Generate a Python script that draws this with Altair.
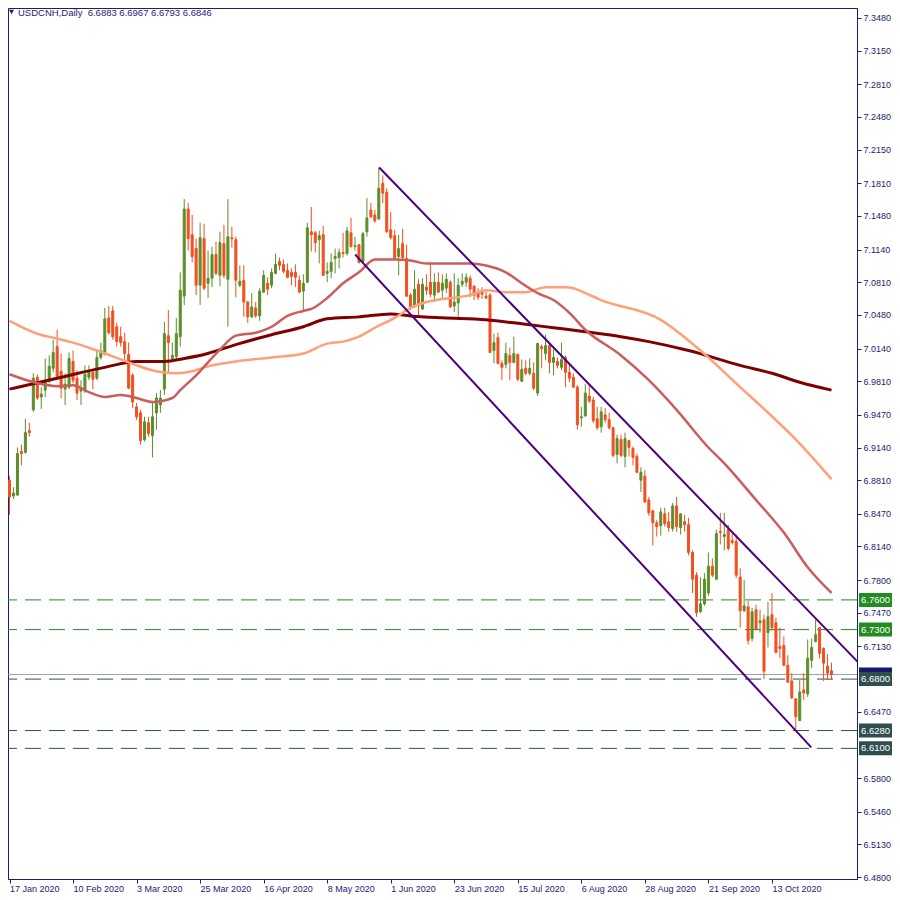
import altair as alt
import pandas as pd

# ---------------- data (USDCNH daily candles) ----------------
opens = [
    6.881, 6.865, 6.866, 6.910, 6.909, 6.931, 6.952, 6.985, 6.965, 6.972,
    6.981, 6.994, 7.016, 6.991, 6.973, 6.975, 7.001, 6.984, 6.971, 6.971,
    6.985, 6.990, 6.984, 7.005, 7.008, 7.045, 7.052, 7.036, 7.026, 7.021,
    7.008, 6.987, 6.955, 6.949, 6.922, 6.939, 6.926, 6.949, 6.957, 6.973,
    7.027, 7.004, 7.006, 7.026, 7.067, 7.155, 7.129, 7.115, 7.078, 7.125,
    7.080, 7.085, 7.109, 7.088, 7.120, 7.084, 7.126, 7.124, 7.078, 7.083,
    7.061, 7.046, 7.055, 7.047, 7.071, 7.080, 7.078, 7.090, 7.102, 7.099,
    7.093, 7.091, 7.091, 7.083, 7.072, 7.081, 7.132, 7.131, 7.124, 7.129,
    7.090, 7.092, 7.105, 7.106, 7.111, 7.110, 7.131, 7.117, 7.119, 7.102,
    7.132, 7.154, 7.149, 7.145, 7.181, 7.172, 7.134, 7.128, 7.107, 7.120,
    7.105, 7.068, 7.057, 7.079, 7.054, 7.076, 7.081, 7.068, 7.081, 7.073,
    7.075, 7.081, 7.057, 7.060, 7.079, 7.081, 7.085, 7.077, 7.070, 7.071,
    7.067, 7.068, 7.012, 7.025, 6.999, 6.998, 7.007, 7.000, 7.008, 6.981,
    6.994, 6.989, 6.989, 6.969, 7.016, 7.009, 7.017, 7.000, 7.001, 6.995,
    7.005, 6.990, 6.985, 6.975, 6.944, 6.946, 6.966, 6.962, 6.943, 6.935,
    6.947, 6.942, 6.934, 6.907, 6.922, 6.905, 6.921, 6.913, 6.905, 6.881,
    6.885, 6.861, 6.850, 6.838, 6.835, 6.847, 6.839, 6.832, 6.855, 6.833,
    6.839, 6.836, 6.808, 6.785, 6.748, 6.756, 6.767, 6.794, 6.781, 6.829,
    6.824, 6.831, 6.820, 6.819, 6.783, 6.749, 6.753, 6.721, 6.750, 6.737,
    6.740, 6.727, 6.745, 6.737, 6.713, 6.714, 6.694, 6.678, 6.660, 6.638,
    6.669, 6.665, 6.699, 6.718, 6.732, 6.711, 6.693, 6.6883,
]
highs = [
    6.885, 6.874, 6.914, 6.917, 6.943, 6.939, 6.989, 6.988, 6.975, 7.004,
    7.007, 7.023, 7.033, 7.009, 6.989, 7.010, 7.012, 6.992, 6.982, 6.997,
    6.997, 6.994, 7.012, 7.020, 7.055, 7.057, 7.057, 7.040, 7.036, 7.030,
    7.020, 6.989, 6.959, 6.952, 6.945, 6.945, 6.960, 6.969, 6.972, 7.041,
    7.053, 7.020, 7.045, 7.091, 7.165, 7.161, 7.149, 7.125, 7.141, 7.140,
    7.113, 7.117, 7.122, 7.132, 7.139, 7.165, 7.137, 7.127, 7.098, 7.098,
    7.062, 7.070, 7.061, 7.075, 7.093, 7.086, 7.095, 7.110, 7.106, 7.104,
    7.100, 7.095, 7.099, 7.088, 7.089, 7.141, 7.157, 7.133, 7.133, 7.138,
    7.101, 7.110, 7.115, 7.115, 7.131, 7.137, 7.146, 7.127, 7.119, 7.132,
    7.166, 7.161, 7.154, 7.197, 7.189, 7.176, 7.152, 7.134, 7.129, 7.135,
    7.119, 7.070, 7.093, 7.084, 7.085, 7.089, 7.100, 7.090, 7.091, 7.089,
    7.090, 7.083, 7.090, 7.085, 7.090, 7.090, 7.088, 7.078, 7.075, 7.076,
    7.072, 7.070, 7.029, 7.030, 7.002, 7.020, 7.015, 7.026, 7.009, 7.003,
    7.002, 7.004, 7.000, 7.020, 7.018, 7.028, 7.020, 7.013, 7.005, 7.020,
    7.007, 6.999, 6.989, 6.977, 6.955, 6.978, 6.977, 6.965, 6.955, 6.955,
    6.954, 6.949, 6.935, 6.927, 6.927, 6.929, 6.922, 6.915, 6.908, 6.894,
    6.891, 6.864, 6.851, 6.841, 6.853, 6.853, 6.849, 6.858, 6.864, 6.847,
    6.846, 6.843, 6.810, 6.788, 6.783, 6.787, 6.808, 6.802, 6.831, 6.848,
    6.848, 6.836, 6.828, 6.826, 6.792, 6.780, 6.759, 6.752, 6.755, 6.750,
    6.745, 6.758, 6.767, 6.742, 6.732, 6.723, 6.704, 6.686, 6.661, 6.679,
    6.686, 6.720, 6.721, 6.740, 6.732, 6.712, 6.705, 6.6967,
]
lows = [
    6.846, 6.862, 6.865, 6.896, 6.908, 6.925, 6.950, 6.962, 6.953, 6.965,
    6.979, 6.990, 6.983, 6.964, 6.957, 6.973, 6.979, 6.962, 6.957, 6.969,
    6.982, 6.973, 6.982, 7.003, 7.007, 7.028, 7.023, 7.016, 7.016, 7.002,
    6.973, 6.954, 6.942, 6.917, 6.920, 6.925, 6.904, 6.932, 6.949, 6.967,
    6.989, 7.002, 7.002, 7.016, 7.058, 7.113, 7.101, 7.068, 7.058, 7.073,
    7.065, 7.076, 7.088, 7.077, 7.085, 7.036, 7.116, 7.066, 7.076, 7.046,
    7.040, 7.045, 7.045, 7.042, 7.070, 7.068, 7.075, 7.089, 7.093, 7.090,
    7.085, 7.078, 7.076, 7.070, 7.053, 7.081, 7.112, 7.111, 7.100, 7.088,
    7.081, 7.085, 7.090, 7.095, 7.106, 7.108, 7.116, 7.113, 7.100, 7.101,
    7.127, 7.146, 7.141, 7.144, 7.161, 7.131, 7.124, 7.103, 7.088, 7.103,
    7.066, 7.053, 7.055, 7.046, 7.053, 7.068, 7.066, 7.061, 7.070, 7.063,
    7.070, 7.055, 7.051, 7.046, 7.076, 7.076, 7.066, 7.063, 7.063, 7.064,
    7.064, 7.010, 6.999, 6.998, 6.982, 6.994, 6.982, 6.999, 6.981, 6.980,
    6.987, 6.987, 6.972, 6.966, 6.994, 7.002, 6.989, 6.987, 6.994, 6.992,
    6.975, 6.980, 6.974, 6.932, 6.935, 6.945, 6.959, 6.939, 6.932, 6.929,
    6.939, 6.932, 6.904, 6.898, 6.904, 6.894, 6.905, 6.896, 6.888, 6.869,
    6.858, 6.845, 6.815, 6.824, 6.825, 6.834, 6.829, 6.829, 6.829, 6.826,
    6.829, 6.805, 6.767, 6.743, 6.747, 6.754, 6.764, 6.783, 6.780, 6.816,
    6.810, 6.810, 6.816, 6.782, 6.732, 6.748, 6.715, 6.718, 6.729, 6.727,
    6.680, 6.712, 6.729, 6.706, 6.701, 6.693, 6.676, 6.660, 6.629, 6.638,
    6.659, 6.662, 6.691, 6.717, 6.701, 6.678, 6.679, 6.6793,
]
closes = [
    6.864, 6.868, 6.908, 6.908, 6.929, 6.929, 6.984, 6.964, 6.968, 6.981,
    6.996, 7.010, 6.986, 6.974, 6.978, 7.004, 6.982, 6.969, 6.974, 6.988,
    6.990, 6.983, 7.005, 7.012, 7.044, 7.030, 7.026, 7.021, 7.020, 7.009,
    6.974, 6.960, 6.945, 6.921, 6.940, 6.928, 6.945, 6.964, 6.964, 7.029,
    7.020, 7.007, 7.029, 7.073, 7.155, 7.125, 7.107, 7.078, 7.126, 7.075,
    7.085, 7.109, 7.090, 7.121, 7.088, 7.127, 7.125, 7.083, 7.082, 7.061,
    7.046, 7.056, 7.047, 7.072, 7.088, 7.074, 7.091, 7.099, 7.098, 7.092,
    7.086, 7.087, 7.086, 7.071, 7.080, 7.136, 7.129, 7.121, 7.128, 7.088,
    7.092, 7.101, 7.107, 7.111, 7.110, 7.133, 7.117, 7.118, 7.101, 7.130,
    7.146, 7.147, 7.143, 7.176, 7.171, 7.132, 7.126, 7.105, 7.115, 7.106,
    7.067, 7.056, 7.074, 7.057, 7.079, 7.073, 7.069, 7.081, 7.071, 7.080,
    7.084, 7.056, 7.061, 7.078, 7.082, 7.086, 7.074, 7.068, 7.066, 7.069,
    7.065, 7.010, 7.020, 6.999, 6.995, 7.009, 7.000, 7.009, 6.983, 6.993,
    6.989, 6.994, 6.974, 7.019, 7.014, 7.017, 7.000, 7.005, 6.997, 7.003,
    6.990, 6.984, 6.975, 6.937, 6.945, 6.969, 6.961, 6.941, 6.934, 6.950,
    6.942, 6.934, 6.906, 6.923, 6.906, 6.923, 6.914, 6.904, 6.889, 6.889,
    6.859, 6.848, 6.838, 6.834, 6.849, 6.837, 6.833, 6.855, 6.834, 6.847,
    6.836, 6.808, 6.781, 6.747, 6.756, 6.781, 6.794, 6.785, 6.827, 6.828,
    6.826, 6.812, 6.818, 6.785, 6.749, 6.754, 6.719, 6.748, 6.730, 6.739,
    6.688, 6.743, 6.732, 6.707, 6.711, 6.694, 6.677, 6.661, 6.642, 6.667,
    6.666, 6.701, 6.712, 6.725, 6.706, 6.696, 6.686, 6.6846,
]

# moving averages (bar index, value)
ma_long_idx = [0, 12, 24, 32, 39, 44, 49, 57, 66, 74, 80, 88, 96, 101, 109, 120,
               129, 137, 145, 154, 161, 171, 184, 192, 199, 207]
ma_long_val = [6.973, 6.984, 6.995, 7.001, 7.001, 7.004, 7.008, 7.018, 7.028, 7.036,
               7.044, 7.046, 7.049, 7.047, 7.045, 7.043, 7.039, 7.035, 7.031, 7.026,
               7.021, 7.012, 6.997, 6.989, 6.980, 6.972]
ma_mid_idx = [0, 7, 12, 16, 22, 28, 32, 37, 42, 46, 49, 57, 66, 74, 80, 84, 88, 92,
              97, 101, 105, 109, 116, 120, 125, 130, 135, 140, 142, 145, 149, 164,
              174, 184, 190, 199, 207]
ma_mid_val = [7.042, 7.029, 7.024, 7.020, 7.012, 7.003, 6.997, 6.991, 6.989, 6.991,
              6.995, 7.001, 7.005, 7.009, 7.019, 7.021, 7.026, 7.035, 7.045, 7.055,
              7.061, 7.064, 7.068, 7.073, 7.071, 7.071, 7.076, 7.076, 7.075, 7.070,
              7.063, 7.043, 7.012, 6.975, 6.953, 6.918, 6.882]
ma_short_idx = [0, 7, 12, 16, 20, 24, 28, 32, 36, 41, 43, 47, 53, 57, 62, 66, 70, 74,
                76, 80, 84, 88, 92, 97, 101, 105, 116, 120, 125, 129, 133, 137, 141,
                145, 154, 161, 168, 176, 180, 188, 195, 201, 207]
ma_short_val = [6.988, 6.979, 6.976, 6.977, 6.970, 6.965, 6.967, 6.964, 6.960, 6.964,
                6.972, 6.987, 7.013, 7.027, 7.030, 7.036, 7.047, 7.052, 7.054, 7.065,
                7.080, 7.091, 7.104, 7.104, 7.103, 7.100, 7.100, 7.098, 7.091, 7.080,
                7.070, 7.063, 7.050, 7.033, 7.007, 6.982, 6.952, 6.914, 6.898, 6.861,
                6.828, 6.793, 6.767]

# channel lines (start/end bar index, price)
upper_idx = [93.1, 213.95]
upper_val = [7.197, 6.696]
lower_idx = [87.05, 201.9]
lower_val = [7.109, 6.611]

# horizontal levels
green_levels = [6.7600, 6.7300]
dark_levels = [6.6800, 6.6280, 6.6100]
last_price = 6.6846

price_ticks = [7.3480, 7.3150, 7.2810, 7.2480, 7.2150, 7.1810, 7.1480, 7.1140,
               7.0810, 7.0480, 7.0140, 6.9810, 6.9470, 6.9140, 6.8810, 6.8470,
               6.8140, 6.7800, 6.7470, 6.7130, 6.6470, 6.5800, 6.5460, 6.5130,
               6.4800]
date_labels = ["17 Jan 2020", "10 Feb 2020", "3 Mar 2020", "25 Mar 2020",
               "16 Apr 2020", "8 May 2020", "1 Jun 2020", "23 Jun 2020",
               "15 Jul 2020", "6 Aug 2020", "28 Aug 2020", "21 Sep 2020",
               "13 Oct 2020"]
date_ticks = [16 * k for k in range(len(date_labels))]

title_text = "USDCNH,Daily\u00a0 6.6883 6.6967 6.6793 6.6846"

# ---------------- styling ----------------
NAVY = "#1c1c72"
UP = "#5a8f2a"
DOWN = "#f34f1f"
FONT = "Liberation Sans"
W, H = 849, 871
YMIN, YMAX = 6.4780, 7.3581

xscale = alt.Scale(domain=[-0.378, 213.42], nice=False, zero=False, padding=0)
yscale = alt.Scale(domain=[YMIN, YMAX], nice=False, zero=False, padding=0)

label_expr = "[" + ",".join("'%s'" % s for s in date_labels) + "][round(datum.value/16)]"
xaxis = alt.Axis(values=date_ticks, labelExpr=label_expr, title=None, orient="bottom",
                 grid=False, labelAlign="left", labelBaseline="top", labelFlush=False,
                 labelOverlap=False, labelBound=False, tickSize=4, labelPadding=1)
yaxis = alt.Axis(values=price_ticks, format=".4f", title=None, orient="right",
                 grid=False, labelOverlap=False, labelFlush=False, labelBound=False,
                 tickSize=4, labelPadding=2, labelBaseline="middle")


def X(f):
    return alt.X(f, type="quantitative", scale=xscale, axis=xaxis)


def Y(f):
    return alt.Y(f, type="quantitative", scale=yscale, axis=yaxis)


candles = pd.DataFrame({"i": list(range(len(opens))), "open": opens, "high": highs,
                        "low": lows, "close": closes})
candles["col"] = [UP if c >= o else DOWN for o, c in zip(opens, closes)]

levels = pd.DataFrame({
    "v": green_levels + dark_levels,
    "col": ["#228b22"] * len(green_levels) + ["#2f4f4f"] * len(dark_levels),
})
levels["txt"] = ["%.4f" % v for v in levels["v"]]
half = 7.0 * (YMAX - YMIN) / H
levels["lo"] = levels["v"] - half
levels["hi"] = levels["v"] + half

cur = pd.DataFrame({"v": [last_price], "txt": ["%.4f" % last_price]})
cur["lo"] = cur["v"] - half
cur["hi"] = cur["v"] + half

ma = pd.concat([
    pd.DataFrame({"i": ma_long_idx, "v": ma_long_val, "ma": "long", "col": "#800000", "w": 3}),
    pd.DataFrame({"i": ma_mid_idx, "v": ma_mid_val, "ma": "mid", "col": "#ffa07a", "w": 2.5}),
    pd.DataFrame({"i": ma_short_idx, "v": ma_short_val, "ma": "short", "col": "#cd5c5c", "w": 2.5}),
])

channel = pd.concat([
    pd.DataFrame({"i": upper_idx, "v": upper_val, "line": "upper"}),
    pd.DataFrame({"i": lower_idx, "v": lower_val, "line": "lower"}),
])

# ---------------- layers ----------------
level_lines = alt.Chart(levels).mark_rule(strokeDash=[16, 8], strokeWidth=1).encode(
    y=Y("v"), color=alt.Color("col:N", scale=None))
price_line = alt.Chart(cur).mark_rule(color="#a0a0a0", strokeWidth=1).encode(y=Y("v"))

wicks = alt.Chart(candles).mark_rule(strokeWidth=1).encode(
    x=X("i"), y=Y("low"), y2="high", color=alt.Color("col:N", scale=None))
bodies = alt.Chart(candles).mark_bar(size=2, strokeWidth=1).encode(
    x=X("i"), y=Y("open"), y2="close",
    color=alt.Color("col:N", scale=None), stroke=alt.Stroke("col:N", scale=None))

ma_lines = alt.Chart(ma).mark_line(clip=True, interpolate="monotone").encode(
    x=X("i"), y=Y("v"), detail="ma:N",
    color=alt.Color("col:N", scale=None), strokeWidth=alt.StrokeWidth("w:Q", scale=None))

channel_lines = alt.Chart(channel).mark_line(color="#4b0082", strokeWidth=2, clip=True).encode(
    x=X("i"), y=Y("v"), detail="line:N")

BOX_L, BOX_R = W + 2, W + 35
cur_box = alt.Chart(cur).mark_rect(color="#191970").encode(
    x=alt.value(BOX_L), x2=alt.value(BOX_R), y=Y("lo"), y2="hi")
cur_txt = alt.Chart(cur).mark_text(color="white", font=FONT, fontSize=9.5, align="center",
                                   baseline="middle").encode(
    x=alt.value((BOX_L + BOX_R) / 2), y=Y("v"), text="txt:N")
lvl_box = alt.Chart(levels).mark_rect().encode(
    x=alt.value(BOX_L), x2=alt.value(BOX_R), y=Y("lo"), y2="hi",
    color=alt.Color("col:N", scale=None))
lvl_txt = alt.Chart(levels).mark_text(color="white", font=FONT, fontSize=9.5, align="center",
                                      baseline="middle").encode(
    x=alt.value((BOX_L + BOX_R) / 2), y=Y("v"), text="txt:N")

title_df = pd.DataFrame({"t": [title_text]})
title_mark = alt.Chart(title_df).mark_text(color=NAVY, font=FONT, fontSize=9.5, align="left",
                                           baseline="middle").encode(
    x=alt.value(10), y=alt.value(4.5), text="t:N")
tri = alt.Chart(title_df).mark_point(shape="triangle-down", filled=True, size=26, color=NAVY,
                                     opacity=1).encode(x=alt.value(3.5), y=alt.value(4))

chart = alt.layer(
    level_lines, price_line, wicks, bodies, ma_lines, channel_lines,
    cur_box, cur_txt, lvl_box, lvl_txt, title_mark, tri,
).properties(
    width=W, height=H,
    autosize=alt.AutoSizeParams(type="none"),
    padding={"left": 0, "top": 0, "right": 35, "bottom": 17},
    background="white",
).configure_axis(
    domainColor=NAVY, tickColor=NAVY, labelColor=NAVY, labelFont=FONT, labelFontSize=9,
    domainWidth=1, tickWidth=1,
).configure_view(stroke=NAVY, strokeWidth=1)

chart.save("out.html", embed_options={"renderer": "svg", "actions": False})
